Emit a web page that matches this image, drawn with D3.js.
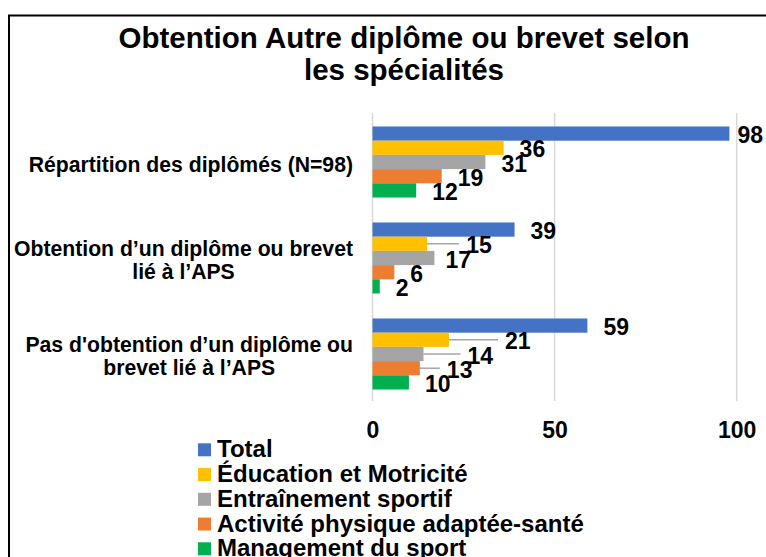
<!DOCTYPE html>
<html>
<head>
<meta charset="utf-8">
<script src="https://cdn.jsdelivr.net/npm/d3@7"></script>
<style>
  body { margin: 0; background: #fff; }
  svg text { font-family: "Liberation Sans", Arial, sans-serif; font-weight: bold; fill: #000; }
</style>
</head>
<body>
<script>
// Categories (top to bottom) and their line breaks
const categories = ["Répartition des diplômés (N=98)",
                    "Obtention d’un diplôme ou brevet lié à l’APS",
                    "Pas d'obtention d’un diplôme ou brevet lié à l’APS"];
const categoryLines = [["Répartition des diplômés (N=98)"],
                       ["Obtention d’un diplôme ou brevet", "lié à l’APS"],
                       ["Pas d'obtention d’un diplôme ou", "brevet lié à l’APS"]];

// Series, in drawing order inside each group
const series = ["Total", "Éducation et Motricité", "Entraînement sportif",
                "Activité physique adaptée-santé", "Management du sport"];
const colors = ["#4472C4", "#FFC000", "#A5A5A5", "#ED7D31", "#00B050"];

// Values per series, one per category
const total        = [98, 39, 59];
const education    = [36, 15, 21];
const entrainement = [31, 17, 14];
const apa          = [19, 6, 13];
const management   = [12, 2, 10];
const values = [total, education, entrainement, apa, management];

const xTicks = [0, 50, 100];

// Extra horizontal push of some data labels (px), as Excel placed them
const labelPush = [[-8, 0, 0, 0, 0],
                   [0, 23, -5, 0, 0],
                   [0, 40, 28, 11, 0]];

const width = 766, height = 557;
const svg = d3.select("body").append("svg").attr("width", width).attr("height", height);

// chart border (cut off at right/bottom)
svg.append("rect")
  .attr("x", 9).attr("y", 15.5)
  .attr("width", 800).attr("height", 600)
  .attr("fill", "none").attr("stroke", "#000").attr("stroke-width", 2);

// Title
svg.append("text").attr("x", 404).attr("y", 48).attr("text-anchor", "middle")
  .style("font-size", "29.5px").text("Obtention Autre diplôme ou brevet selon");
svg.append("text").attr("x", 404).attr("y", 80).attr("text-anchor", "middle")
  .style("font-size", "29.5px").text("les spécialités");

// Scales
const xScale = d3.scaleLinear().domain([0, 100]).range([372.5, 736.7]);
const yScale = d3.scaleBand().domain(categories).range([114, 402])
  .paddingInner(0.26).paddingOuter(0.13);
const ySub = d3.scaleBand().domain(series).range([0, yScale.bandwidth()]);

// Gridlines
svg.append("g").selectAll("line").data(xTicks).enter().append("line")
  .attr("x1", d => xScale(d)).attr("x2", d => xScale(d))
  .attr("y1", 113).attr("y2", 401)
  .attr("stroke", "#d9d9d9").attr("stroke-width", 1.5);

// X axis labels
const xAxis = d3.axisBottom(xScale).tickValues(xTicks).tickSize(0).tickPadding(0);
const gx = svg.append("g").attr("transform", "translate(0,421)").call(xAxis);
gx.select(".domain").remove();
gx.selectAll("text").attr("dy", 0).attr("y", 17)
  .style("font-size", "23px").style("font-family", "'Liberation Sans', Arial, sans-serif")
  .style("font-weight", "bold").attr("fill", "#000");

// Bars and labels
categories.forEach((cat, ci) => {
  const g = svg.append("g").attr("transform", "translate(0," + yScale(cat) + ")");
  series.forEach((s, si) => {
    const v = values[si][ci];
    const y0 = ySub(s);
    const cy = y0 + ySub.bandwidth() / 2;
    g.append("rect")
      .attr("x", xScale(0)).attr("y", y0)
      .attr("width", xScale(v) - xScale(0)).attr("height", ySub.bandwidth())
      .attr("fill", colors[si]);
    const lx = xScale(v) + 16 + labelPush[ci][si];
    if (labelPush[ci][si] > 8) {
      g.append("line")
        .attr("x1", xScale(v)).attr("x2", lx - 7)
        .attr("y1", cy).attr("y2", cy)
        .attr("stroke", "#a6a6a6").attr("stroke-width", 1.5);
    }
    g.append("text").attr("x", lx).attr("y", cy + 9.7)
      .style("font-size", "23px").text(v);
  });
});

// Category labels: block right aligned, lines centred within it
categories.forEach((cat, ci) => {
  const lines = categoryLines[ci];
  const lh = 22.5;
  const cy = yScale(cat) + yScale.bandwidth() / 2;
  const tmp = lines.map(l => svg.append("text").style("font-size", "21.2px").text(l));
  const maxW = d3.max(tmp, t => t.node().getComputedTextLength());
  tmp.forEach(t => t.remove());
  const cx = 353 - maxW / 2;
  lines.forEach((l, li) => {
    svg.append("text")
      .attr("x", cx)
      .attr("y", cy + 9.5 + (li - (lines.length - 1) / 2) * lh)
      .attr("text-anchor", "middle")
      .style("font-size", "21.2px")
      .text(l);
  });
});

// Legend
const legend = svg.append("g").attr("id", "legend");
series.forEach((s, i) => {
  const base = 457.3 + i * 24.75;
  legend.append("rect").attr("x", 198).attr("y", base - 14)
    .attr("width", 13).attr("height", 13).attr("fill", colors[i]);
  legend.append("text").attr("x", 217).attr("y", base)
    .style("font-size", "24px").text(s);
});
</script>
</body>
</html>
